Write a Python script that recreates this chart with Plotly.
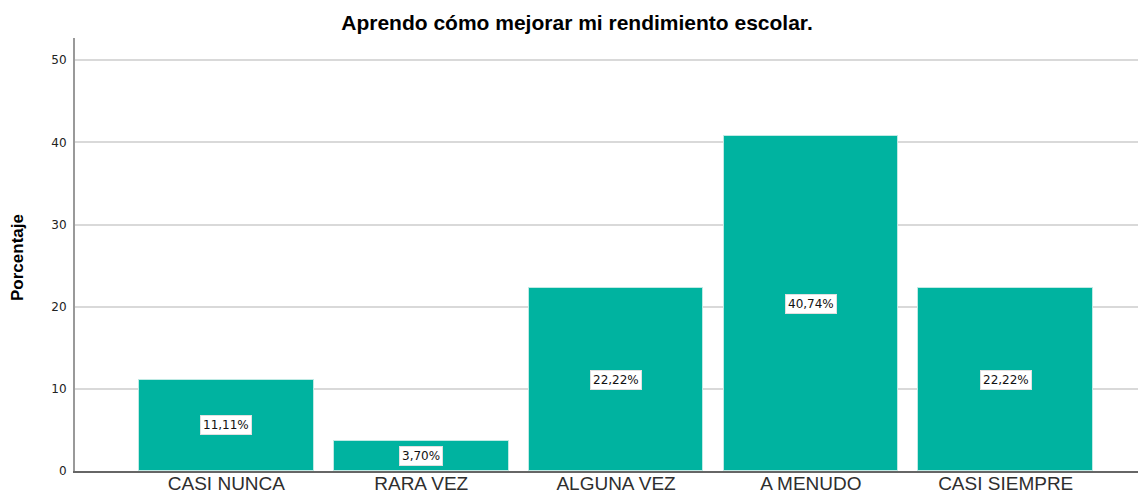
import plotly.graph_objects as go

categories = ["CASI NUNCA", "RARA VEZ", "ALGUNA VEZ", "A MENUDO", "CASI SIEMPRE"]
values = [11.11, 3.70, 22.22, 40.74, 22.22]
labels = ["11,11%", "3,70%", "22,22%", "40,74%", "22,22%"]
yticks = [0, 10, 20, 30, 40, 50]

x_idx = list(range(len(categories)))

fig = go.Figure()
fig.add_trace(go.Bar(
    x=x_idx, y=values, width=0.897,
    marker=dict(color="#00b3a0", line=dict(color="#bfeae4", width=1)),
    hoverinfo="skip",
))

for i, v, lab in zip(x_idx, values, labels):
    fig.add_annotation(
        x=i, y=v / 2, text=lab, showarrow=False,
        font=dict(family="DejaVu Sans", size=12, color="#111111"),
        bgcolor="white", bordercolor="#e0e0e0", borderwidth=1, borderpad=2,
    )

fig.add_annotation(
    xref="paper", yref="paper", x=-0.0532, y=0.492,
    text="<b>Porcentaje</b>", showarrow=False, textangle=-90,
    xanchor="center", yanchor="middle",
    font=dict(family="Liberation Sans", size=17, color="#000000"),
)

fig.update_layout(
    width=1138, height=488,
    margin=dict(l=67, r=0, t=30, b=25, autoexpand=False),
    paper_bgcolor="white", plot_bgcolor="white",
    showlegend=False,
    bargap=0,
    title=dict(
        text="<b>Aprendo cómo mejorar mi rendimiento escolar.</b>",
        x=0.5, xanchor="center", xref="container", y=0.971, yanchor="middle",
        font=dict(family="Liberation Sans", size=21, color="#000000"),
    ),
    xaxis=dict(
        tickmode="array", tickvals=x_idx, ticktext=categories,
        range=[-0.777, 4.72], automargin=False,
        showgrid=False, zeroline=False,
        showline=True, linecolor="#666666", linewidth=2,
        ticks="", ticklen=0, ticklabelstandoff=-6,
        tickfont=dict(family="Liberation Sans", size=19, color="#2e2e2e"),
    ),
    yaxis=dict(
        range=[0, 52.7], tickvals=yticks, automargin=False,
        showgrid=True, gridcolor="#d9d9d9", gridwidth=1.5,
        zeroline=False,
        showline=True, linecolor="#999999", linewidth=2,
        ticks="", ticklen=0, ticklabelstandoff=4,
        tickfont=dict(family="DejaVu Sans", size=12, color="#222222"),
    ),
)

fig.write_html("out.html")
